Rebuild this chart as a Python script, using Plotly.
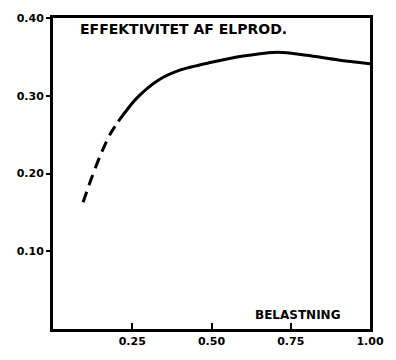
import plotly.graph_objects as go

# Efficiency of electricity production vs. load (belastning)
load_est = [0.095, 0.117, 0.148, 0.178, 0.206]
eff_est = [0.163, 0.189, 0.222, 0.249, 0.267]

load_meas = [0.206, 0.262, 0.332, 0.40, 0.50, 0.60, 0.71, 0.80, 0.90, 1.0]
eff_meas = [0.267, 0.296, 0.320, 0.333, 0.343, 0.351, 0.356, 0.352, 0.346, 0.341]

x_ticks = [0.25, 0.50, 0.75, 1.00]
x_tick_text = ["0.25", "0.50", "0.75", "1.00"]
y_ticks = [0.10, 0.20, 0.30, 0.40]
y_tick_text = ["0.10", "0.20", "0.30", "0.40"]

font_family = "DejaVu Sans, Liberation Sans, sans-serif"

fig = go.Figure()
fig.add_trace(go.Scatter(
    x=load_est, y=eff_est, mode="lines",
    line=dict(color="black", width=3, dash="11px,7px", shape="spline", smoothing=0.8),
    showlegend=False, hoverinfo="skip",
))
fig.add_trace(go.Scatter(
    x=load_meas, y=eff_meas, mode="lines",
    line=dict(color="black", width=3, shape="spline", smoothing=0.8),
    showlegend=False, hoverinfo="skip",
))

fig.update_xaxes(
    range=[0, 1.0], tickvals=x_ticks, ticktext=x_tick_text,
    showgrid=False, zeroline=False,
    showline=True, linecolor="black", linewidth=3, mirror=True,
    ticks="inside", ticklen=6, tickwidth=2, tickcolor="black",
    tickfont=dict(family=font_family, size=11, color="black", weight="bold"),
)
fig.update_yaxes(
    range=[0, 0.40], tickvals=y_ticks, ticktext=y_tick_text,
    showgrid=False, zeroline=False,
    showline=True, linecolor="black", linewidth=3, mirror=True,
    ticks="outside", ticklen=4, tickwidth=2, tickcolor="black",
    tickfont=dict(family=font_family, size=11, color="black", weight="bold"),
)

fig.add_annotation(
    text="EFFEKTIVITET AF ELPROD.", x=0.08, y=0.386, xref="x", yref="y",
    xanchor="left", yanchor="middle", showarrow=False,
    font=dict(family=font_family, size=14, color="black", weight="bold"),
)
fig.add_annotation(
    text="BELASTNING", x=0.63, y=0.018, xref="x", yref="y",
    xanchor="left", yanchor="middle", showarrow=False,
    font=dict(family=font_family, size=12, color="black", weight="bold"),
)

fig.update_layout(
    width=396, height=360,
    margin=dict(l=53, r=18, t=15, b=19),
    paper_bgcolor="white", plot_bgcolor="white",
)

fig.write_html("out.html")
